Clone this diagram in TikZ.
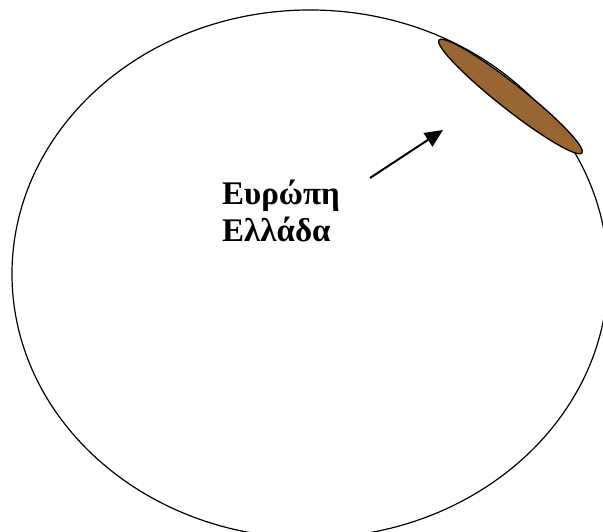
\documentclass[tikz,border=0pt]{standalone}
\usepackage{fontspec}
\setmainfont{Liberation Serif}
\usepackage{tikz}
\usetikzlibrary{arrows.meta}
\definecolor{landbrown}{RGB}{153,102,51}
\tikzset{
  line cap=round,
  line join=round,
  world/.style={draw, line width=1.2pt},
  region/.style={draw, line width=1.3pt, fill=landbrown},
  arrow/.style={-{Triangle[length=18pt, width=16pt]}, line width=2pt},
  placename/.style={align=left, font=\bfseries\fontsize{33}{37}\selectfont, inner sep=0pt}
}
\begin{document}
\begin{tikzpicture}[x=1pt, y=1pt]
  \useasboundingbox (0,0) rectangle (603,532);
  \clip (0,0) rectangle (603,532);

  % the world and europe
  \draw[world] (310,258) ellipse [x radius=298, y radius=264];
  \draw[region, rotate around={-38.3:(510.5,435.5)}] (510.5,435.5) ellipse [x radius=91, y radius=12.5];

  \node[placename, anchor=base west] (name) at (222,290) {Ευρώπη\\Ελλάδα};

  \coordinate (tail) at (370,354);
  \coordinate (tip) at (443,402);
  \draw[arrow] (tail) -- (tip);
\end{tikzpicture}
\end{document}
